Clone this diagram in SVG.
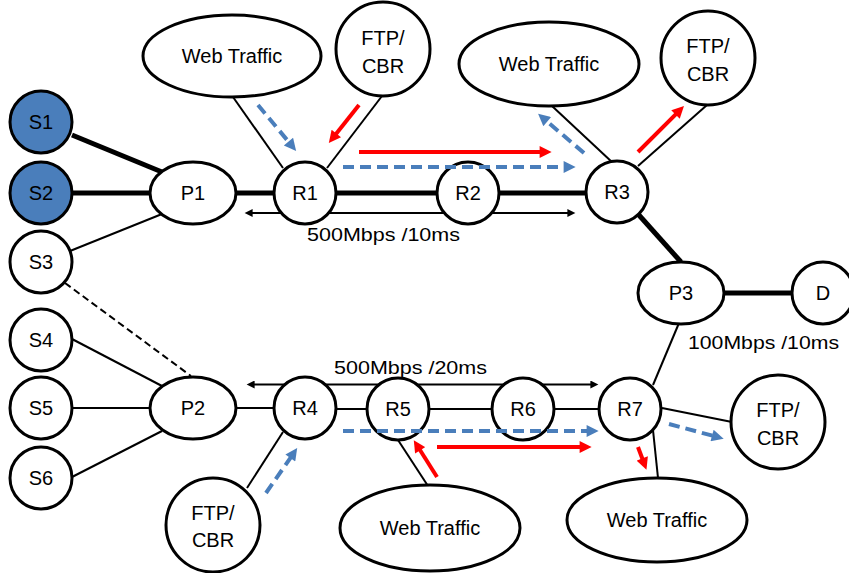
<svg xmlns="http://www.w3.org/2000/svg" width="849" height="573" viewBox="0 0 849 573">
<style>
.node{fill:#fff;stroke:#000;stroke-width:3}
.src{fill:#4A7EBB}
.lbl{font-family:"Liberation Sans",Arial,sans-serif;font-size:20px;text-anchor:middle;fill:#000}
.meas{font-family:"Liberation Sans",Arial,sans-serif;font-size:19px;fill:#000}
.thick{stroke:#000;stroke-width:5;fill:none}
.thin{stroke:#000;stroke-width:2;fill:none}
.dash{stroke-dasharray:7 4}
.blue{stroke:#4A7EBB;stroke-width:4;stroke-dasharray:11 6;fill:none;marker-end:url(#ab)}
.red{stroke:#FF0000;stroke-width:4;fill:none;marker-end:url(#ar)}
.dbl{stroke:#000;stroke-width:2;fill:none;marker-start:url(#ak);marker-end:url(#ak)}
</style>
<defs>
<marker id="ab" viewBox="0 0 10 10" refX="2" refY="5" markerWidth="14" markerHeight="12" markerUnits="userSpaceOnUse" orient="auto"><path d="M0,0L10,5L0,10z" fill="#4A7EBB"/></marker>
<marker id="ar" viewBox="0 0 10 10" refX="2" refY="5" markerWidth="14" markerHeight="12" markerUnits="userSpaceOnUse" orient="auto"><path d="M0,0L10,5L0,10z" fill="#FF0000"/></marker>
<marker id="ak" viewBox="0 0 10 10" refX="2" refY="5" markerWidth="10" markerHeight="8" markerUnits="userSpaceOnUse" orient="auto-start-reverse"><path d="M0,0L10,5L0,10z" fill="#000"/></marker>
</defs>
<rect width="849" height="573" fill="#fff"/>
<g id="connectors">
<line class="thick" x1="72" y1="135" x2="162" y2="172"/>
<line class="thick" x1="72" y1="193" x2="151" y2="193"/>
<line class="thin" x1="70" y1="251" x2="162" y2="214"/>
<line class="thin dash" x1="65" y1="283" x2="191" y2="376"/>
<line class="thin" x1="72" y1="339" x2="162" y2="386"/>
<line class="thin" x1="72" y1="408" x2="151" y2="408"/>
<line class="thin" x1="72" y1="477" x2="162" y2="431"/>
<line class="thick" x1="236" y1="193" x2="274" y2="193"/>
<line class="thick" x1="336" y1="193" x2="437" y2="193"/>
<line class="thick" x1="499" y1="193" x2="586" y2="193"/>
<line class="thick" x1="638" y1="214" x2="681" y2="262"/>
<line class="thick" x1="724" y1="293" x2="792" y2="293"/>
<line class="thin" x1="679" y1="323" x2="653" y2="385"/>
<line class="thin" x1="233" y1="97" x2="283" y2="168"/>
<line class="thin" x1="382" y1="96" x2="327" y2="168"/>
<line class="thin" x1="552" y1="106" x2="613" y2="163"/>
<line class="thin" x1="707" y1="105" x2="638" y2="166"/>
<line class="thin" x1="236" y1="408" x2="274" y2="408"/>
<line class="thin" x1="336" y1="409" x2="367" y2="409"/>
<line class="thin" x1="429" y1="409" x2="492" y2="409"/>
<line class="thin" x1="554" y1="409" x2="599" y2="409"/>
<line class="thin" x1="662" y1="408" x2="732" y2="422"/>
<line class="thin" x1="653" y1="430" x2="658" y2="478"/>
<line class="thin" x1="398" y1="440" x2="428" y2="486"/>
<line class="thin" x1="283" y1="432" x2="247" y2="488"/>
<line class="dbl" x1="251" y1="213" x2="569" y2="213"/>
<line class="dbl" x1="253" y1="384.5" x2="592" y2="384.5"/>
</g>
<g id="S1"><circle class="node src" cx="41" cy="122" r="31"/><text class="lbl" x="41" y="129">S1</text></g>
<g id="S2"><circle class="node src" cx="41" cy="193" r="31"/><text class="lbl" x="41" y="200">S2</text></g>
<g id="S3"><circle class="node" cx="41" cy="262" r="31"/><text class="lbl" x="41" y="269">S3</text></g>
<g id="S4"><circle class="node" cx="41" cy="340" r="31"/><text class="lbl" x="41" y="347">S4</text></g>
<g id="S5"><circle class="node" cx="41" cy="408" r="31"/><text class="lbl" x="41" y="415">S5</text></g>
<g id="S6"><circle class="node" cx="41" cy="478" r="31"/><text class="lbl" x="41" y="485">S6</text></g>
<g id="P1"><ellipse class="node" cx="193" cy="193" rx="43" ry="31"/><text class="lbl" x="193" y="200">P1</text></g>
<g id="P2"><ellipse class="node" cx="193" cy="408" rx="43" ry="31"/><text class="lbl" x="193" y="415">P2</text></g>
<g id="P3"><ellipse class="node" cx="681" cy="293" rx="43" ry="31"/><text class="lbl" x="681" y="300">P3</text></g>
<g id="D"><circle class="node" cx="823" cy="293" r="31"/><text class="lbl" x="823" y="300">D</text></g>
<g id="R1"><circle class="node" cx="305" cy="193" r="31"/><text class="lbl" x="305" y="200">R1</text></g>
<g id="R2"><circle class="node" cx="468" cy="193" r="31"/><text class="lbl" x="468" y="200">R2</text></g>
<g id="R3"><circle class="node" cx="617" cy="192" r="31"/><text class="lbl" x="617" y="199">R3</text></g>
<g id="R4"><circle class="node" cx="305" cy="408" r="31"/><text class="lbl" x="305" y="415">R4</text></g>
<g id="R5"><circle class="node" cx="398" cy="409" r="31"/><text class="lbl" x="398" y="416">R5</text></g>
<g id="R6"><circle class="node" cx="523" cy="409" r="31"/><text class="lbl" x="523" y="416">R6</text></g>
<g id="R7"><circle class="node" cx="630" cy="409" r="31"/><text class="lbl" x="630" y="416">R7</text></g>
<g id="Web1"><ellipse class="node" cx="232" cy="56" rx="89" ry="41"/><text class="lbl" x="232" y="63">Web Traffic</text></g>
<g id="FTP1"><circle class="node" cx="383" cy="49" r="47"/><text class="lbl" x="383" y="45">FTP/</text><text class="lbl" x="383" y="73">CBR</text></g>
<g id="Web2"><ellipse class="node" cx="549" cy="64" rx="90" ry="42"/><text class="lbl" x="549" y="71">Web Traffic</text></g>
<g id="FTP2"><circle class="node" cx="708" cy="58" r="47"/><text class="lbl" x="708" y="53">FTP/</text><text class="lbl" x="708" y="81">CBR</text></g>
<g id="FTP3"><circle class="node" cx="213" cy="525" r="47"/><text class="lbl" x="213" y="520">FTP/</text><text class="lbl" x="213" y="547">CBR</text></g>
<g id="Web3"><ellipse class="node" cx="430" cy="528" rx="90" ry="43"/><text class="lbl" x="430" y="535">Web Traffic</text></g>
<g id="Web4"><ellipse class="node" cx="657" cy="520" rx="90" ry="42"/><text class="lbl" x="657" y="527">Web Traffic</text></g>
<g id="FTP4"><circle class="node" cx="778" cy="422" r="47"/><text class="lbl" x="778" y="417">FTP/</text><text class="lbl" x="778" y="445">CBR</text></g>
<g id="flows">
<line class="blue" x1="258" y1="105" x2="290" y2="143.5"/>
<line class="red" x1="359" y1="105" x2="334.8" y2="135.4"/>
<line class="red" x1="359" y1="152" x2="542" y2="152"/>
<line class="blue" x1="343" y1="167" x2="566" y2="167"/>
<line class="blue" x1="584" y1="153" x2="545.4" y2="120.1"/>
<line class="red" x1="638" y1="152" x2="677.2" y2="112.8"/>
<line class="blue" x1="266" y1="493" x2="291.7" y2="456"/>
<line class="blue" x1="343" y1="431" x2="589" y2="431"/>
<line class="red" x1="437" y1="447" x2="582" y2="447"/>
<line class="red" x1="437" y1="477" x2="418.9" y2="448.3"/>
<line class="blue" x1="669" y1="424" x2="714.4" y2="436.2"/>
<line class="red" x1="638" y1="447" x2="643.1" y2="460.7"/>
</g>
<g id="labels">
<text class="meas" x="307" y="241" textLength="153" lengthAdjust="spacingAndGlyphs">500Mbps /10ms</text>
<text class="meas" x="334" y="374" textLength="153" lengthAdjust="spacingAndGlyphs">500Mbps /20ms</text>
<text class="meas" x="688" y="349" textLength="151" lengthAdjust="spacingAndGlyphs">100Mbps /10ms</text>
</g>
</svg>
